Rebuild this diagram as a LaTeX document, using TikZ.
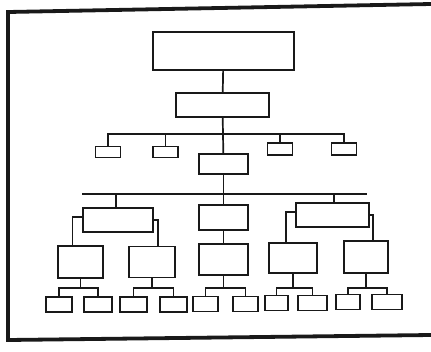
\documentclass[tikz,border=0pt]{standalone}
\usepackage{tikz}
\usetikzlibrary{positioning}

\begin{document}
\begin{tikzpicture}[
  x=1pt, y=-1pt,
  box/.style={
    rectangle, draw=black!90, line width=1.9pt,
    inner sep=0pt, fill=white
  },
  head/.style={box, minimum width=141pt, minimum height=38pt},
  unit/.style={box, minimum width=25pt, minimum height=11pt},
  dept/.style={box, minimum width=47pt, minimum height=31pt},
  leaf/.style={box, minimum width=26pt, minimum height=15pt},
  link/.style={line width=1.7pt, draw=black!90},
  frame/.style={line width=3.8pt, draw=black!90}
]
\useasboundingbox (0,0) rectangle (431,351);

% frame
\coordinate (fTR) at (431,4);
\coordinate (fTL) at (8,12);
\coordinate (fBL) at (8,340);
\coordinate (fBR) at (431,335);
\draw[frame] (fTR) -- (fTL) -- (fBL) -- (fBR);

% top levels
\node[head] (chief) at (223.5,51) {};
\node[box, minimum width=93pt, minimum height=24pt] (deputy) at (222.5,105) {};

\node[unit] (st1) at (108,152) {};
\node[unit] (st2) at (165.5,152) {};
\node[unit, minimum height=12pt] (st3) at (280,149) {};
\node[unit, minimum height=12pt] (st4) at (344,149) {};

\node[box, minimum width=49pt, minimum height=20pt] (core) at (223.5,164) {};

% second level
\node[box, minimum width=70pt, minimum height=24pt] (A) at (118,220) {};
\node[box, minimum width=49pt, minimum height=25pt] (B) at (223.5,217.5) {};
\node[box, minimum width=73pt, minimum height=24pt] (C) at (332.5,215) {};

% third level
\node[dept, minimum width=45pt, minimum height=32pt] (a1) at (80.5,262) {};
\node[dept, minimum width=46pt] (a2) at (152,262) {};
\node[dept, minimum width=49pt] (b1) at (223.5,259.5) {};
\node[dept, minimum width=48pt, minimum height=30pt] (c1) at (293,258) {};
\node[dept, minimum width=44pt, minimum height=32pt] (c2) at (366,257) {};

% leaves
\node[leaf] (a11) at (59,304.5) {};
\node[leaf, minimum width=28pt] (a12) at (98,304.5) {};
\node[leaf, minimum width=27pt] (a21) at (133.5,304.5) {};
\node[leaf, minimum width=27pt] (a22) at (173.5,304.5) {};
\node[leaf, minimum width=25pt] (b11) at (205.5,304) {};
\node[leaf, minimum width=25pt] (b12) at (245.5,304) {};
\node[leaf, minimum width=23pt] (c11) at (276.5,303) {};
\node[leaf, minimum width=29pt] (c12) at (312.5,303) {};
\node[leaf, minimum width=24pt] (c21) at (348,302) {};
\node[leaf, minimum width=30pt] (c22) at (387,302) {};

% links
\draw[link] (chief) -- (deputy);
\draw[link] (deputy) -- (core);
\coordinate (staffbar) at (222.5,134);
\draw[link] (st1.north) |- (staffbar) -| (st4.north);
\draw[link] (st2.north) -- (st2.north |- staffbar);
\draw[link] (st3.north) -- (st3.north |- staffbar);

\coordinate (barL) at (82,194);
\coordinate (barR) at (367,194);
\draw[link] (barL) -- (barR);
\draw[link] (core) -- (core.south |- barL);
\draw[link] ([xshift=-2pt]A.north) -- ([xshift=-2pt]A.north |- barL);
\draw[link] (B.north) -- (B.north |- barL);
\draw[link] ([xshift=1.5pt]C.north) -- ([xshift=1.5pt]C.north |- barL);

\draw[link] ([yshift=3pt]A.west) -| ([xshift=-8pt]a1.north);
\draw[link] (A.east) -| ([xshift=6pt]a2.north);
\draw[link] (B) -- (b1);
\draw[link] ([yshift=3pt]C.west) -| ([xshift=-7pt]c1.north);
\draw[link] (C.east) -| ([xshift=7pt]c2.north);

\foreach \p in {a1,a2,b1,c1,c2} {
  \draw[link] (\p.south) -- (\p.south |- 0,288);
  \draw[link] (\p1.north) |- (\p.south |- 0,288) -| (\p2.north);
}
\end{tikzpicture}
\end{document}
